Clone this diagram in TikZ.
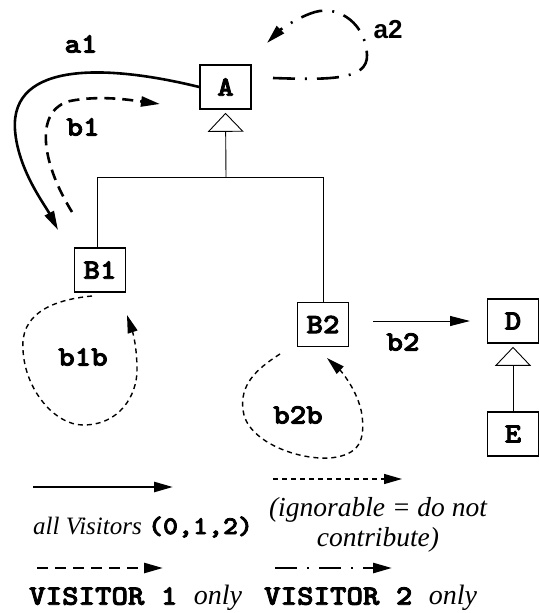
\documentclass[tikz,border=0pt]{standalone}
\usepackage{fontspec}
\setmainfont{Liberation Serif}
\setsansfont{Liberation Sans}
\setmonofont{lmmonolt10}[Extension=.otf, UprightFont=*-regular, BoldFont=*-bold,
  FakeStretch=1.12, BoldFeatures={FakeBold=3}]
\usetikzlibrary{arrows.meta}

\begin{document}
\begin{tikzpicture}[
  x=1pt,y=-1pt,
  cls/.style={draw=black, line width=1.6pt, minimum width=51pt, minimum height=44pt, inner sep=0pt, font=\fontsize{28}{30}\selectfont\ttfamily\bfseries},
  tree/.style={draw=black, line width=0.9pt},
  inherit/.style={tree, -{Triangle[open, length=19pt, width=36pt, line width=0.9pt]}},
  lbl/.style={font=\fontsize{28}{30}\selectfont\ttfamily\bfseries, inner sep=1pt},
  txt/.style={font=\fontsize{27.5}{30}\selectfont\itshape, inner sep=1pt, align=center},
  allvis/.style={-{Triangle[length=19pt, width=10pt]}, line width=2.6pt},
  visone/.style={allvis, dash pattern=on 11pt off 7pt},
  vistwo/.style={allvis, dash pattern=on 22pt off 10pt on 2pt off 10pt},
  ignore/.style={-{Triangle[length=18pt, width=10pt]}, line width=1.4pt, dash pattern=on 5pt off 4pt},
  plain/.style={-{Triangle[length=20pt, width=10pt]}, line width=1pt}
]
  \useasboundingbox (0,0) rectangle (540,613);

  % classes
  \node[cls] (A) at (225.5,87) {A};
  \node[cls] (B1) at (100,270) {B1};
  \node[cls] (B2) at (323,324.5) {B2};
  \node[cls] (D) at (513,321) {D};
  \node[cls] (E) at (513,434) {E};

  % inheritance tree
  \coordinate (bar) at (226,177);
  \draw[tree] (97,177) -- (323,177);
  \draw[tree] (97,177) -- (B1.north -| 97,0);
  \draw[tree] (323,177) -- (B2.north);
  \draw[inherit, shorten >=3pt] (bar) -- (A.south);
  \draw[inherit, shorten >=3pt] (E.north) -- (D.south);

  % visitor paths
  \coordinate (a1end) at (58,230);
  \draw[allvis] (A.west) .. controls (110,65) and (10,60) .. (15,130)
    .. controls (18,170) and (45,205) .. (a1end);
  \node[lbl] (a1) at (81,44) {a1};

  \coordinate (b1start) at (72,212);
  \coordinate (b1end) at (160,104);
  \draw[visone] (b1start) .. controls (40,160) and (35,110) .. (70,101)
    .. controls (100,95) and (130,100) .. (b1end);
  \node[lbl] (b1) at (83,127) {b1};

  \coordinate (a2start) at (273,78);
  \coordinate (a2end) at (267,43);
  \draw[vistwo] (a2start) .. controls (330,80) and (368,80) .. (367,55)
    .. controls (366,25) and (340,5) .. (315,12)
    .. controls (298,17) and (280,30) .. (a2end);
  \node[lbl, font=\fontsize{26}{28}\selectfont\sffamily\bfseries] (a2) at (388,30) {a2};

  \coordinate (b1bend) at (127,315);
  \draw[ignore] (92,296) .. controls (50,300) and (20,315) .. (23,350)
    .. controls (25,390) and (55,425) .. (83,425)
    .. controls (120,425) and (137,395) .. (137,370)
    .. controls (137,345) and (132,330) .. (b1bend);
  \node[lbl] (b1b) at (83,357) {b1b};

  \coordinate (b2bend) at (327,358);
  \draw[ignore] (280,354) .. controls (255,370) and (240,385) .. (243,410)
    .. controls (246,440) and (295,460) .. (330,458)
    .. controls (360,455) and (365,440) .. (362,415)
    .. controls (358,390) and (340,370) .. (b2bend);
  \node[lbl] (b2b) at (298,415) {b2b};

  \coordinate (b2start) at (373,321);
  \coordinate (b2end) at (470,321);
  \draw[plain] (b2start) -- (b2end);
  \node[lbl] (b2) at (403,342) {b2};

  % legend
  \draw[allvis] (33,487) coordinate (k1) -- (173,487) coordinate (k2);
  \node[txt, anchor=west, font=\fontsize{25}{28}\selectfont\itshape] (kall) at (32,527) {all Visitors \upshape\fontsize{25.5}{28}\selectfont\ttfamily\bfseries(0,1,2)};
  \draw[ignore] (273,479) coordinate (k3) -- (402,479) coordinate (k4);
  \node[txt] (kign) at (378,525) {(ignorable = do not\\contribute)};
  \draw[visone] (37,568) coordinate (k5) -- (163,568) coordinate (k6);
  \node[txt, anchor=west] (kone) at (28,598) {\upshape\fontsize{28}{30}\selectfont\ttfamily\bfseries VISITOR 1 \itshape\rmfamily\mdseries only};
  \draw[vistwo] (275,568) coordinate (k7) -- (392,568) coordinate (k8);
  \node[txt, anchor=west] (ktwo) at (263,598) {\upshape\fontsize{28}{30}\selectfont\ttfamily\bfseries VISITOR 2 \itshape\rmfamily\mdseries only};
\end{tikzpicture}
\end{document}
